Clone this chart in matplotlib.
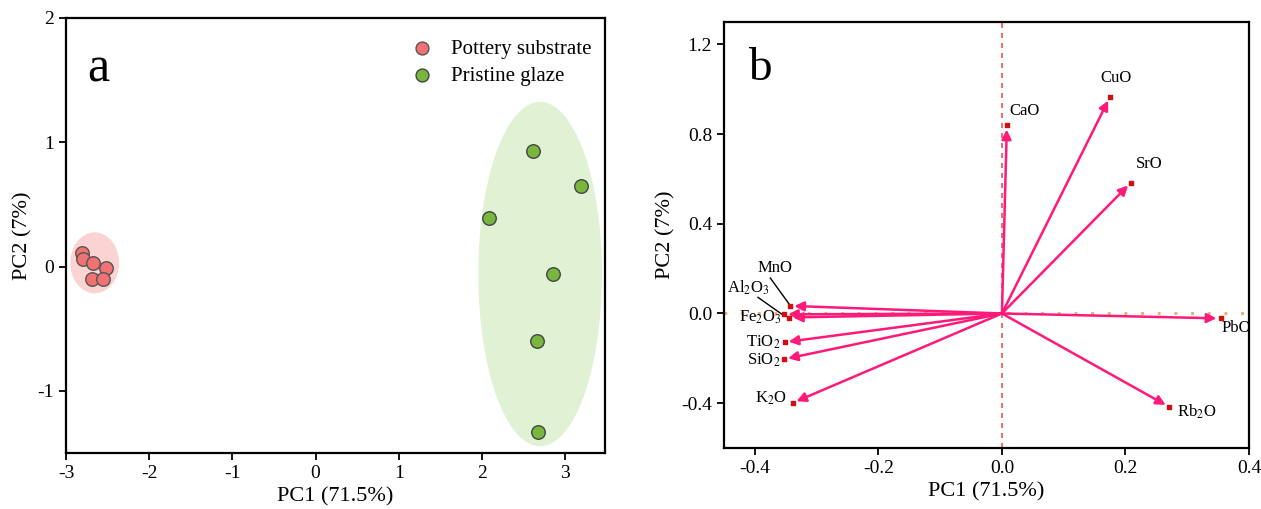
import numpy as np
import matplotlib
matplotlib.use("Agg")
import matplotlib.pyplot as plt
from matplotlib.patches import Ellipse

plt.rcParams['font.family'] = ['Liberation Serif', 'DejaVu Serif']
plt.rcParams['mathtext.fontset'] = 'stix'
plt.rcParams['axes.unicode_minus'] = False

# panel a: PCA scores
pot_x = [-2.81, -2.80, -2.68, -2.52, -2.69, -2.56]
pot_y = [0.11, 0.06, 0.03, -0.01, -0.10, -0.10]
gla_x = [2.61, 3.19, 2.09, 2.85, 2.66, 2.68]
gla_y = [0.93, 0.65, 0.39, -0.06, -0.60, -1.33]
# confidence ellipses: center x, center y, width, height
pot_ell = [-2.655, 0.03, 0.57, 0.48]
gla_ell = [2.70, -0.06, 1.47, 2.76]

# panel b: loadings
load_names = ['CaO', 'CuO', 'SrO', 'PbO', 'Rb$_2$O', 'K$_2$O', 'SiO$_2$',
              'TiO$_2$', 'Fe$_2$O$_3$', 'Al$_2$O$_3$', 'MnO']
load_x = [0.008, 0.175, 0.209, 0.354, 0.271, -0.339, -0.353, -0.352, -0.345, -0.353, -0.343]
load_y = [0.839, 0.966, 0.584, -0.022, -0.417, -0.399, -0.204, -0.128, -0.018, -0.004, 0.034]
lab_x = [0.012, 0.185, 0.239, 0.355, 0.283, -0.347, -0.358, -0.358, -0.357, -0.41, -0.368]
lab_y = [0.903, 1.05, 0.666, -0.065, -0.44, -0.38, -0.21, -0.128, -0.015, 0.116, 0.203]

fig = plt.figure(figsize=(12.61, 5.09), dpi=100)
axa = fig.add_axes([66/1261, 1-453/509, (605-66)/1261, (453-18)/509])
axb = fig.add_axes([724/1261, 1-448/509, (1249-724)/1261, (448-22)/509])

for ax in (axa, axb):
    for s in ax.spines.values():
        s.set_linewidth(1.6)
    ax.tick_params(direction='out', length=5, width=1.3, labelsize=14, top=False, right=False)

# ---- a ----
axa.add_patch(Ellipse((pot_ell[0], pot_ell[1]), pot_ell[2], pot_ell[3], color='#FBD3D3', zorder=1))
axa.add_patch(Ellipse((gla_ell[0], gla_ell[1]), gla_ell[2], gla_ell[3], color='#E0F1D4', zorder=1))
axa.scatter(pot_x, pot_y, s=95, c='#F07272', edgecolors='#555555', linewidths=1, zorder=3, label='Pottery substrate')
axa.scatter(gla_x, gla_y, s=95, c='#78B63E', edgecolors='#444444', linewidths=1, zorder=3, label='Pristine glaze')
axa.set_xlim(-3, 3.48)
axa.set_ylim(-1.5, 2)
axa.set_xticks([-3, -2, -1, 0, 1, 2, 3])
axa.set_yticks([-1, 0, 1, 2])
axa.set_xlabel('PC1 (71.5%)', fontsize=16, labelpad=4)
axa.set_ylabel('PC2 (7%)', fontsize=16, labelpad=4)
axa.text(0.04, 0.855, 'a', transform=axa.transAxes, fontsize=36)
leg = axa.legend(loc='upper right', bbox_to_anchor=(0.995, 0.975), frameon=False, fontsize=15,
                 handletextpad=0.4, borderaxespad=0.1, labelspacing=0.35, markerscale=0.95)

# ---- b ----
axb.axvline(0, color='#F05050', ls=(0, (3, 3)), lw=1.2, zorder=1)
axb.axhline(0, color='#F4A460', ls=(0, (1, 5)), lw=2, zorder=1)
for i in range(len(load_names)):
    axb.annotate('', xy=(load_x[i], load_y[i]), xytext=(0, 0),
                 arrowprops=dict(arrowstyle='-|>', color='#FF1A7A', lw=1.8,
                                 mutation_scale=14, shrinkA=0, shrinkB=3), zorder=3)
axb.scatter(load_x, load_y, s=5, c='#D01010', marker='s', zorder=4)
ha = ['left', 'center', 'center', 'left', 'left', 'right', 'right', 'right', 'right', 'center', 'center']
for i in range(len(load_names)):
    axb.text(lab_x[i], lab_y[i], load_names[i], fontsize=12, ha=ha[i], va='center', zorder=5)
# leader lines
axb.plot([-0.375, -0.343], [0.158, 0.036], color='black', lw=1)
axb.plot([-0.395, -0.355], [0.072, -0.006], color='black', lw=1)
axb.set_xlim(-0.45, 0.4)
axb.set_ylim(-0.6, 1.3)
axb.set_xticks([-0.4, -0.2, 0.0, 0.2, 0.4])
axb.set_yticks([-0.4, 0.0, 0.4, 0.8, 1.2])
axb.set_xticklabels(['-0.4', '-0.2', '0.0', '0.2', '0.4'])
axb.set_yticklabels(['-0.4', '0.0', '0.4', '0.8', '1.2'])
axb.set_xlabel('PC1 (71.5%)', fontsize=16, labelpad=4)
axb.set_ylabel('PC2 (7%)', fontsize=16, labelpad=4)
axb.text(0.045, 0.865, 'b', transform=axb.transAxes, fontsize=34)

fig.savefig('out.png', dpi=100)
